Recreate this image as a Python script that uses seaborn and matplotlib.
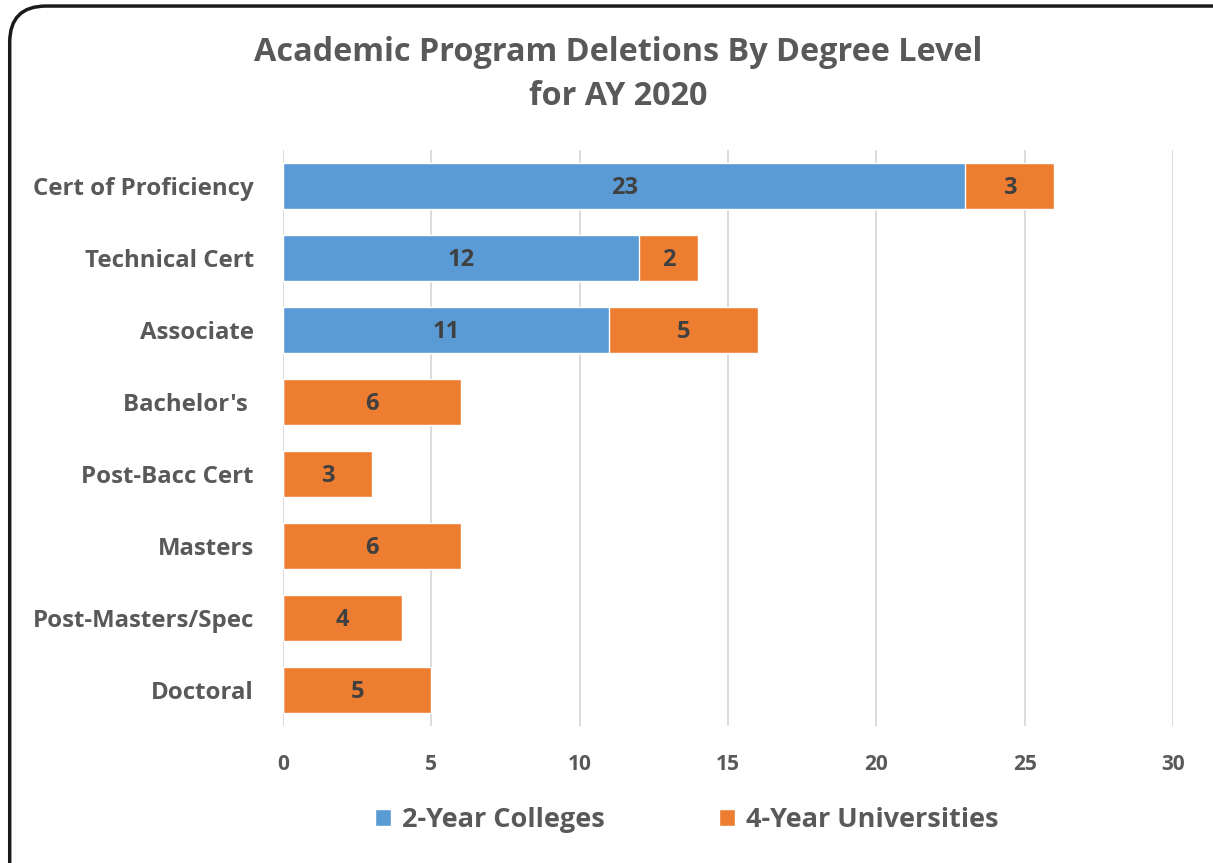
import matplotlib
matplotlib.use("Agg")
import matplotlib.pyplot as plt
import seaborn as sns
import pandas as pd
from matplotlib.patches import FancyBboxPatch, Patch

# data
categories = ["Cert of Proficiency", "Technical Cert", "Associate", "Bachelor's ",
              "Post-Bacc Cert", "Masters", "Post-Masters/Spec", "Doctoral"]
two_year = [23, 12, 11, 0, 0, 0, 0, 0]
four_year = [3, 2, 5, 6, 3, 6, 4, 5]
x_ticks = [0, 5, 10, 15, 20, 25, 30]

blue = "#5B9BD5"
orange = "#ED7D31"
text_col = "#595959"

sns.set_theme(style="white")
plt.rcParams["font.family"] = ["Open Sans", "DejaVu Sans"]

df = pd.DataFrame({"cat": categories, "two": two_year, "four": four_year})
df["total"] = df["two"] + df["four"]

fig = plt.figure(figsize=(12.13, 8.63), dpi=100)
ax = fig.add_axes([0.2333, 0.1587, 0.7337, 0.6675])

# stacked: full total in orange, 2-year part over it in blue
sns.barplot(data=df, x="total", y="cat", color=orange, orient="h",
            width=0.64, saturation=1, ax=ax, zorder=2)
sns.barplot(data=df, x="two", y="cat", color=blue, orient="h",
            width=0.64, saturation=1, ax=ax, zorder=3)

for i, row in df.iterrows():
    if row["two"] > 0:
        ax.text(row["two"] / 2, i + 0.03, str(row["two"]), ha="center", va="center",
                fontsize=17, fontweight="bold", color="#404040", zorder=4)
    ax.text(row["two"] + row["four"] / 2, i + 0.03, str(row["four"]), ha="center", va="center",
            fontsize=17, fontweight="bold", color="#404040", zorder=4)

ax.set_xlim(0, 30)
ax.set_ylim(7.5, -0.5)
ax.set_xticks(x_ticks)
ax.set_xticklabels([str(t) for t in x_ticks], fontsize=15, fontweight="bold", color=text_col)
ax.set_yticklabels(categories, fontsize=17.3, fontweight="bold", color=text_col)
ax.tick_params(axis="x", length=0, pad=20)
ax.tick_params(axis="y", length=0, pad=21)
ax.set_xlabel("")
ax.set_ylabel("")
ax.grid(axis="x", color="#D9D9D9", linewidth=1.3, zorder=0)
ax.set_axisbelow(True)
for s in ax.spines.values():
    s.set_visible(False)

fig.text(0.51, 0.914, "Academic Program Deletions By Degree Level\nfor AY 2020",
         ha="center", va="center", fontsize=23.3, fontweight="bold", color=text_col,
         linespacing=1.45)

handles = [Patch(facecolor=blue, label="2-Year Colleges"),
           Patch(facecolor=orange, label="4-Year Universities")]
leg = fig.legend(handles=handles, loc="center", bbox_to_anchor=(0.566, 0.05),
                 ncol=2, frameon=False, handlelength=0.6, handleheight=0.6,
                 handletextpad=0.4, columnspacing=4.2,
                 prop={"size": 19.5, "weight": "bold"})
for t in leg.get_texts():
    t.set_color(text_col)

# rounded chart frame, cut off at right and bottom like the screenshot
frame = FancyBboxPatch((0.008, -0.05), 1.1, 1.043,
                       boxstyle="round,pad=0,rounding_size=0.03",
                       transform=fig.transFigure, facecolor="none",
                       edgecolor="#1a1a1a", linewidth=2.5,
                       mutation_aspect=1.4)
fig.patches.append(frame)

fig.savefig("out.png", dpi=100)
